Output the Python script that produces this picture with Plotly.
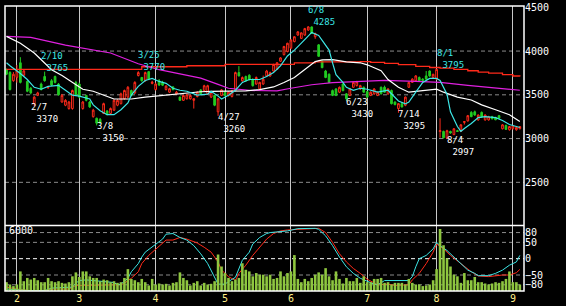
import plotly.graph_objects as go

# ---------------- data (trading-day index 0..148, late Jan .. early Sep) ----------------
OPEN = [3790,3755,3661,3700,3866,3724,3653,3575,3400,3493,
        3623,3709,3580,3661,3709,3623,3418,3381,3343,3343,
        3642,3623,3343,3493,3418,3250,3232,3220,3287,3315,
        3287,3325,3381,3399,3455,3474,3549,3522,3720,3698,
        3661,3765,3630,3560,3661,3640,3560,3530,3590,3510,
        3474,3437,3455,3455,3437,3481,3556,3548,3511,3474,
        3493,3306,3493,3530,3493,3481,3548,3754,3660,3709,
        3724,3672,3623,3567,3623,3716,3716,3772,3791,3884,
        3959,3996,4033,4108,4183,4145,4183,4240,4276,4164,
        4071,3884,3772,3735,3548,3567,3530,3623,3511,3493,
        3586,3605,3567,3586,3537,3493,3511,3493,3586,3586,
        3511,3549,3418,3343,3399,3381,3586,3642,3661,3698,
        3679,3716,3772,3698,3679,3080,3082,3008,3082,3045,
        3090,3082,3185,3202,3299,3306,3213,3299,3213,3213,
        3250,3240,3262,3112,3150,3101,3112,3101,3112]
HIGH = [3800,3770,3760,3840,3930,3790,3665,3590,3485,3535,
        3640,3765,3600,3680,3720,3635,3510,3450,3430,3560,
        3660,3640,3430,3500,3430,3340,3240,3235,3410,3325,
        3355,3450,3450,3525,3560,3600,3560,3655,3770,3705,
        3765,3768,3660,3640,3680,3660,3610,3580,3600,3545,
        3480,3500,3510,3500,3460,3540,3565,3615,3615,3540,
        3500,3465,3565,3540,3540,3555,3765,3828,3710,3720,
        3735,3690,3710,3650,3720,3785,3765,3855,3875,3930,
        4060,4095,4135,4170,4225,4215,4265,4285,4280,4210,
        4080,3895,3785,3745,3560,3575,3595,3630,3520,3580,
        3650,3660,3615,3595,3545,3540,3575,3540,3595,3605,
        3575,3560,3425,3405,3410,3480,3650,3690,3725,3710,
        3690,3772,3780,3740,3795,3232,3090,3101,3090,3120,
        3100,3165,3200,3270,3314,3320,3275,3310,3275,3260,
        3260,3250,3270,3165,3160,3140,3150,3130,3140]
LOW = [3725,3550,3650,3640,3630,3710,3530,3505,3370,3485,
       3550,3650,3570,3600,3630,3490,3410,3370,3330,3330,
       3490,3460,3330,3425,3350,3240,3150,3165,3280,3265,
       3275,3315,3370,3390,3445,3465,3485,3510,3710,3650,
       3650,3670,3620,3550,3600,3600,3550,3520,3550,3500,
       3430,3430,3445,3445,3343,3470,3500,3540,3500,3465,
       3370,3260,3485,3485,3480,3470,3540,3710,3650,3650,
       3665,3595,3615,3555,3615,3705,3705,3765,3785,3875,
       3950,3985,4025,4100,4175,4140,4175,4230,4195,4140,
       3935,3805,3690,3635,3485,3485,3520,3540,3430,3485,
       3580,3595,3555,3525,3465,3485,3500,3485,3505,3525,
       3500,3390,3380,3295,3355,3370,3580,3635,3655,3655,
       3660,3700,3705,3690,3670,3010,3000,2997,3055,3040,
       3075,3075,3160,3195,3245,3260,3205,3240,3205,3205,
       3220,3210,3230,3105,3100,3090,3105,3090,3105]
CLOSE = [3735,3560,3735,3773,3642,3773,3541,3522,3474,3522,
         3560,3661,3586,3612,3642,3500,3493,3437,3418,3549,
         3500,3474,3418,3437,3362,3325,3176,3180,3399,3277,
         3343,3437,3437,3511,3549,3586,3493,3642,3754,3661,
         3754,3680,3645,3623,3612,3610,3600,3570,3560,3530,
         3437,3493,3500,3493,3455,3530,3511,3604,3604,3530,
         3381,3455,3556,3493,3530,3548,3754,3716,3698,3660,
         3672,3604,3698,3642,3679,3772,3754,3847,3866,3922,
         4052,4089,4127,4164,4220,4208,4257,4276,4201,4201,
         3940,3810,3698,3642,3493,3493,3586,3548,3455,3567,
         3642,3650,3605,3530,3474,3530,3567,3530,3511,3530,
         3567,3399,3388,3399,3362,3474,3642,3679,3716,3661,
         3665,3679,3716,3735,3791,3090,3010,3090,3064,3112,
         3082,3157,3194,3262,3250,3269,3269,3250,3269,3250,
         3225,3215,3232,3157,3105,3138,3145,3127,3138]
VOLUME = [810,600,450,600,1800,900,1200,1050,1200,990,
          810,810,1200,900,810,900,750,690,810,1350,
          1710,1290,1800,1800,1350,1200,1200,900,1050,990,
          810,900,750,810,1200,2010,1110,990,810,1110,
          810,510,1110,600,690,600,660,510,750,810,
          1710,1200,990,510,750,900,510,750,600,660,
          900,3360,2250,1650,1200,900,1050,1200,2550,1950,
          1800,1350,1650,1500,1500,1350,1500,1110,1200,1800,
          1350,1650,1800,3300,1110,810,1110,900,1200,1500,
          1710,1500,2100,1350,990,1800,1110,690,1200,900,
          900,1200,750,1350,810,810,1110,1110,1200,750,
          810,600,750,750,750,600,1110,750,600,600,
          450,510,600,990,2010,5700,4200,3000,2250,1500,
          1350,750,1650,990,990,1290,810,810,690,600,
          690,810,750,900,1110,1800,810,810,600]

# moving-average lines (index, price)
MA_SHORT_IDX = [0,1,4,6,8,10,12,15,17,19,21,24,25,27,29,31,33,35,36,38,
                40,42,44,46,48,50,52,55,58,59,61,62,64,66,68,70,73,75,77,79,
                81,83,85,87,88,90,91,93,94,95,97,98,100,102,104,107,110,111,113,115,
                116,118,120,122,124,125,127,128,130,131,132,134,136,138,141,143,145,147,148]
MA_SHORT_VAL = [3866,3832,3743,3675,3586,3564,3597,3608,3552,3496,3485,3452,3385,3317,3273,3273,3329,3407,3496,3597,
                3664,3687,3653,3631,3575,3552,3541,3496,3508,3541,3485,3452,3496,3552,3642,3675,3675,3709,3754,3832,
                3944,4011,4090,4168,4213,4179,4123,4011,3866,3731,3642,3586,3552,3575,3564,3530,3552,3508,3429,3396,
                3418,3530,3642,3687,3687,3664,3508,3306,3138,3082,3116,3172,3239,3250,3239,3206,3161,3138,3127]
MA_MID_IDX = [0,4,8,11,13,16,19,22,25,28,31,33,36,40,43,46,50,53,56,59,
              62,65,69,73,77,80,83,86,89,91,94,98,102,104,106,108,110,113,116,119,
              122,124,126,130,134,137,141,145,148]
MA_MID_VAL = [4168,4090,3978,3866,3787,3720,3642,3564,3541,3496,3452,3452,3452,3474,3485,3496,3519,3530,3535,3540,
              3540,3540,3545,3560,3590,3640,3698,3790,3880,3900,3903,3877,3866,3843,3810,3776,3675,3586,3530,3541,
              3552,3564,3530,3474,3441,3385,3329,3273,3194]
MA_LONG_IDX = [0,7,17,23,30,38,44,50,56,61,64,70,78,82,88,94,100,109,118,125,133,139,144,148]
MA_LONG_VAL = [4168,4157,4067,4022,3978,3855,3787,3740,3690,3620,3575,3550,3545,3575,3615,3640,3653,3664,3653,3642,3608,3586,3564,3552]
MA_STEP_IDX = [0,39,52,63,83,89,102,105,109,113,118,122,125,129,133,136,139,143,146,148]
MA_STEP_VAL = [3791,3821,3832,3849,3866,3877,3880,3870,3860,3845,3825,3812,3805,3790,3775,3760,3748,3730,3715,3708]

# oscillator (lower panel)
OSC_A_IDX = [0,2,7,11,12,13,17,19,20,21,23,25,26,31,32,33,35,36,38,39,
             40,42,43,45,46,47,48,50,52,54,56,58,60,61,63,64,66,67,68,70,
             71,73,75,76,79,81,84,88,89,90,92,94,96,98,100,102,104,106,107,109,
             116,117,118,119,121,123,124,125,127,129,131,133,135,136,139,141,143,145,147,148]
OSC_A_VAL = [-93,-95,-98,-98,-95,-90,-88,-87,-75,-67,-65,-67,-70,-73,-80,-78,-60,-40,-15,5,
             20,35,45,60,75,77,77,65,57,40,15,-15,-55,-78,-78,-70,-57,-30,-5,20,
             45,65,77,80,83,85,92,92,93,90,70,40,5,-25,-45,-60,-70,-78,-80,-67,
             -67,-55,-25,0,10,30,50,40,25,5,-15,-35,-45,-52,-52,-45,-35,-20,-10,10]
OSC_B_IDX = [0,3,7,11,13,18,20,23,31,33,34,36,38,39,41,43,45,46,48,50,
             52,54,55,57,59,61,62,64,66,67,69,71,73,75,77,79,81,84,86,90,
             92,94,96,98,100,102,104,106,107,110,112,116,117,119,121,123,124,126,128,131,
             134,136,139,143,145,147,148]
OSC_B_VAL = [-87,-93,-98,-98,-93,-93,-82,-82,-82,-80,-75,-60,-40,-15,10,30,50,57,57,65,
             60,53,48,35,20,-10,-35,-55,-67,-45,-20,10,35,60,77,85,88,90,90,93,
             80,50,15,-10,-30,-45,-63,-73,-80,-78,-82,-80,-65,-45,-15,20,45,30,10,-15,
             -40,-53,-55,-50,-50,-43,-33]

MONTH_IDX = [3, 21, 43, 63, 82, 104, 124, 146]
MONTH_TEXT = ["2", "3", "4", "5", "6", "7", "8", "9"]
PRICE_TICKS = [2500, 3000, 3500, 4000, 4500]
PRICE_GRID = [2500, 3000, 3500, 4000]
OSC_TICKS = [80, 50, 0, -50, -80]
OSC_GRID = [80, 50, -50, -80]

LABEL_DATE = ["2/7", "2/10", "3/8", "3/25", "4/27", "6/8", "6/23", "7/14", "8/1", "8/4"]
LABEL_IDX = [7, 10, 26, 38, 61, 87, 98, 113, 124, 127]
LABEL_PRICE = [3370, 3765, 3150, 3770, 3260, 4285, 3430, 3295, 3795, 2997]
LABEL_KIND = ["low", "high", "low", "high", "low", "high", "low", "low", "high", "low"]

# ---------------- styling ----------------
FONT = "DejaVu Sans Mono"
CYAN = "#3ce6e6"
RED = "#ff2a1a"
GREEN = "#22cc22"
MAGENTA = "#e020e0"
VOLC = "#8ec63f"
D = 67 / 291.0

N = len(CLOSE)
IDX = list(range(N))

fig = go.Figure()
fig.add_trace(go.Bar(x=IDX, y=VOLUME, xaxis="x", yaxis="y3",
                     marker=dict(color=VOLC, line=dict(width=0)), hoverinfo="skip"))
fig.add_trace(go.Scatter(x=OSC_B_IDX, y=OSC_B_VAL, xaxis="x", yaxis="y2", mode="lines",
                         line=dict(color=RED, width=1), hoverinfo="skip"))
fig.add_trace(go.Scatter(x=OSC_A_IDX, y=OSC_A_VAL, xaxis="x", yaxis="y2", mode="lines",
                         line=dict(color=CYAN, width=1), hoverinfo="skip"))

fig.add_trace(go.Candlestick(x=IDX, open=OPEN, high=HIGH, low=LOW, close=CLOSE,
                             xaxis="x", yaxis="y", whiskerwidth=0,
                             increasing=dict(line=dict(color=RED, width=1), fillcolor="#000000"),
                             decreasing=dict(line=dict(color=GREEN, width=1), fillcolor=GREEN),
                             hoverinfo="skip"))
fig.add_trace(go.Scatter(x=MA_STEP_IDX, y=MA_STEP_VAL, mode="lines", line=dict(color=RED, width=1.3, shape="hv"),
                         xaxis="x", yaxis="y", hoverinfo="skip"))
fig.add_trace(go.Scatter(x=MA_LONG_IDX, y=MA_LONG_VAL, mode="lines", line=dict(color=MAGENTA, width=1.2),
                         xaxis="x", yaxis="y", hoverinfo="skip"))
fig.add_trace(go.Scatter(x=MA_MID_IDX, y=MA_MID_VAL, mode="lines", line=dict(color="#ffffff", width=1.2),
                         xaxis="x", yaxis="y", hoverinfo="skip"))
fig.add_trace(go.Scatter(x=MA_SHORT_IDX, y=MA_SHORT_VAL, mode="lines", line=dict(color=CYAN, width=1.2),
                         xaxis="x", yaxis="y", hoverinfo="skip"))

shapes = []
for p in PRICE_GRID:
    shapes.append(dict(type="line", xref="paper", x0=0, x1=1, yref="y", y0=p, y1=p,
                       line=dict(color="#8a8a8a", width=1, dash="4px,3px"), layer="between"))
for v in OSC_GRID:
    shapes.append(dict(type="line", xref="paper", x0=0, x1=1, yref="y2", y0=v, y1=v,
                       line=dict(color="#8a8a8a", width=1, dash="4px,3px"), layer="between"))
shapes.append(dict(type="line", xref="paper", x0=0, x1=1, yref="y2", y0=0, y1=0,
                   line=dict(color="#ffffff", width=1, dash="4px,3px"), layer="between"))
shapes.append(dict(type="rect", xref="paper", yref="paper", x0=0, x1=1, y0=0, y1=1,
                   line=dict(color="#ffffff", width=1.5), layer="above"))
shapes.append(dict(type="line", xref="paper", yref="paper", x0=0, x1=1, y0=D, y1=D,
                   line=dict(color="#ffffff", width=1.5), layer="above"))

annotations = []
for d, i, p, k in zip(LABEL_DATE, LABEL_IDX, LABEL_PRICE, LABEL_KIND):
    col = "#ffffff" if k == "low" else CYAN
    if k == "low":
        ya, ys = "top", 5
    else:
        ya, ys = "bottom", -2
    annotations.append(dict(x=i, y=p, xref="x", yref="y", text=d + "<br>&nbsp;" + str(p),
                            showarrow=False, align="left", xanchor="left", yanchor=ya,
                            xshift=-1, yshift=ys, borderpad=0,
                            font=dict(family=FONT, size=9, color=col)))
annotations.append(dict(x=0.006, y=(293 - 231) / 291.0, xref="paper", yref="paper", text="6000",
                        showarrow=False, xanchor="left", yanchor="middle", borderpad=0,
                        font=dict(family=FONT, size=10, color="#ffffff")))

fig.update_layout(
    width=566, height=306,
    margin=dict(l=5, r=42, t=2, b=13),
    paper_bgcolor="#000000", plot_bgcolor="#000000",
    showlegend=False, bargap=0.25,
    xaxis=dict(range=[-0.43, 149.2], anchor="y2", tickmode="array", tickvals=MONTH_IDX, ticktext=MONTH_TEXT,
               showgrid=True, gridcolor="#c8c8c8", gridwidth=1, zeroline=False, showline=False, ticks="",
               tickfont=dict(family=FONT, size=10, color="#ffee88"), rangeslider=dict(visible=False),
               fixedrange=True),
    yaxis=dict(domain=[D, 1], range=[2008, 4515], side="right", anchor="x", tickmode="array",
               tickvals=PRICE_TICKS, showgrid=False, zeroline=False, showline=False, ticks="",
               ticklabeloverflow="allow",
               tickfont=dict(family=FONT, size=10, color="#ffffff")),
    yaxis2=dict(domain=[0, D], range=[-99, 102], side="right", anchor="x", tickmode="array",
                tickvals=OSC_TICKS, showgrid=False, zeroline=False, showline=False, ticks="",
                tickfont=dict(family=FONT, size=10, color="#ffffff")),
    yaxis3=dict(overlaying="y2", range=[0, 6030], visible=False, anchor="x"),
    shapes=shapes,
    annotations=annotations,
)

fig.write_html("out.html", config={"displayModeBar": False})
